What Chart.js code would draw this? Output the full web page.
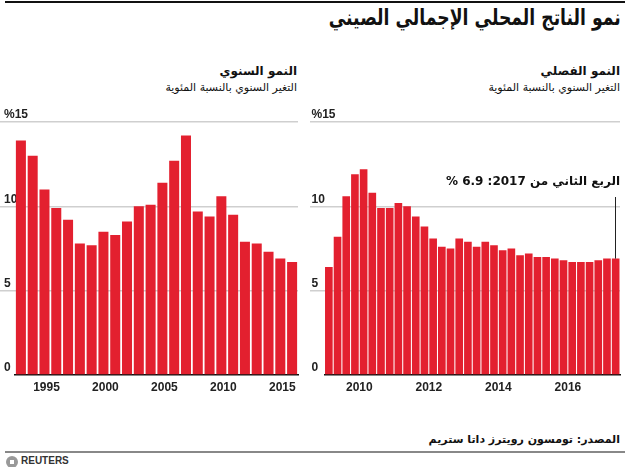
<!DOCTYPE html>
<html>
<head>
<meta charset="utf-8">
<script src="https://cdn.jsdelivr.net/npm/chart.js@4.4.0/dist/chart.umd.min.js"></script>
<style>
  body { margin: 0; background: #fff; width: 633px; height: 467px; position: relative; overflow: hidden; }
  .ar { position: absolute; direction: rtl; font-family: "DejaVu Sans", "Liberation Sans", sans-serif; color: #111; white-space: nowrap; }
  .box { position: absolute; }
</style>
</head>
<body>
<div style="position:absolute;left:5px;top:1px;width:620px;height:2px;background:#111"></div>
<div class="ar" id="title" style="right:12px;top:5px;font-family:'DejaVu Sans Condensed','DejaVu Sans';font-size:22px;font-weight:bold;transform:scaleX(0.87);transform-origin:right center">نمو الناتج المحلي الإجمالي الصيني</div>

<div class="ar" style="right:336px;top:64px;font-size:12px;font-weight:bold">النمو السنوي</div>
<div class="ar" style="right:336px;top:81px;font-size:11px">التغير السنوي بالنسبة المئوية</div>
<div class="ar" style="right:13px;top:64px;font-size:12px;font-weight:bold">النمو الفصلي</div>
<div class="ar" style="right:13px;top:81px;font-size:11px">التغير السنوي بالنسبة المئوية</div>

<div class="box" style="left:0;top:100px;width:310px;height:300px"><canvas id="annual"></canvas></div>
<div class="box" style="left:310px;top:100px;width:323px;height:300px"><canvas id="quarterly"></canvas></div>

<div class="ar" style="right:13px;top:433px;font-size:11px;font-weight:bold">المصدر: تومسون رويترز داتا ستريم</div>
<div style="position:absolute;left:5px;top:451px;width:620px;height:2px;background:#888"></div>
<div style="position:absolute;left:6px;top:456px;width:12px;height:12px;border-radius:50%;background:radial-gradient(circle,#fff 0 25%,#999 30% 100%)"></div>
<div style="position:absolute;left:21px;top:455px;font:bold 10px 'Liberation Sans',sans-serif;color:#333">REUTERS</div>

<script>
const years = [1993, 1994, 1995, 1996, 1997, 1998, 1999, 2000, 2001, 2002, 2003, 2004,
               2005, 2006, 2007, 2008, 2009, 2010, 2011, 2012, 2013, 2014, 2015, 2016];
const annualGrowth = [13.9, 13.0, 11.0, 9.9, 9.2, 7.8, 7.7, 8.5, 8.3, 9.1, 10.0, 10.1,
                      11.4, 12.7, 14.2, 9.7, 9.4, 10.6, 9.5, 7.9, 7.8, 7.3, 6.9, 6.7];

const quarters = [];
for (let y = 2009; y <= 2017; y++) {
    for (let q = 1; q <= 4; q++) {
        if (y === 2017 && q > 2) break;
        quarters.push(y + ' Q' + q);
    }
}
const quarterlyGrowth = [6.4, 8.2, 10.6, 11.9, 12.2, 10.8, 9.9, 9.9, 10.2, 10.0, 9.4, 8.8,
                         8.1, 7.6, 7.5, 8.1, 7.9, 7.6, 7.9, 7.7, 7.4, 7.5, 7.1, 7.2,
                         7.0, 7.0, 6.9, 6.8, 6.7, 6.7, 6.7, 6.8, 6.9, 6.9];

const yTicks = [0, 5, 10, 15];
const annotationText = 'الربع الثاني من 2017: 6.9 %';

const RED = '#e3202f';
const tickFont = { family: 'Liberation Sans', size: 12, weight: 'bold' };

// labels sit left-aligned just above each gridline, gridlines run to the canvas edge
function yScale(axisWidth, labelPad) {
    return {
        min: 0,
        max: 15,
        afterBuildTicks: function(axis) {
            axis.ticks = yTicks.map(v => ({ value: v }));
        },
        afterFit: function(axis) {
            axis.width = axisWidth;
        },
        border: { display: false },
        grid: {
            color: ctx => ctx.tick && ctx.tick.value === 0 ? 'rgba(0,0,0,0)' : '#cfcfcf',
            lineWidth: 1.5,
            tickLength: axisWidth,
            drawTicks: true
        },
        ticks: {
            mirror: true,
            padding: labelPad,
            labelOffset: -7,
            color: '#222',
            font: tickFont,
            callback: v => v === 15 ? '%15' : String(v)
        }
    };
}

function xScale(labelOffset, showLabel) {
    return {
        grid: { display: false, drawTicks: false },
        border: { display: true, color: '#111', width: 1.5 },
        ticks: {
            autoSkip: false,
            maxRotation: 0,
            padding: 5,
            labelOffset: labelOffset,
            color: '#222',
            font: tickFont,
            callback: function(val, i) {
                return showLabel(this.getLabelForValue(val));
            }
        }
    };
}

// annual chart
new Chart(document.getElementById('annual'), {
    type: 'bar',
    data: {
        labels: years,
        datasets: [{
            data: annualGrowth,
            backgroundColor: RED,
            barPercentage: 0.85,
            categoryPercentage: 1
        }]
    },
    options: {
        responsive: true,
        maintainAspectRatio: false,
        animation: false,
        layout: { padding: { top: 22, right: 12, bottom: 0.6, left: 0 } },
        plugins: { legend: { display: false }, tooltip: { enabled: false } },
        scales: {
            x: xScale(2, lbl => Number(lbl) % 5 === 0 ? String(lbl) : ''),
            y: yScale(15, -11)
        }
    }
});

// quarterly chart, with the callout on the latest quarter
const calloutPlugin = {
    id: 'callout',
    afterDatasetsDraw(chart) {
        const ctx = chart.ctx;
        const meta = chart.getDatasetMeta(0);
        const last = meta.data[meta.data.length - 1];
        ctx.save();
        ctx.strokeStyle = '#222';
        ctx.lineWidth = 1;
        ctx.beginPath();
        ctx.moveTo(Math.round(last.x) - 0.5, 97);
        ctx.lineTo(Math.round(last.x) - 0.5, last.y);
        ctx.stroke();
        ctx.font = 'bold 12px "DejaVu Sans"';
        ctx.fillStyle = '#111';
        ctx.direction = 'rtl';
        ctx.textAlign = 'right';
        ctx.textBaseline = 'middle';
        ctx.fillText(annotationText, chart.chartArea.right, 82);
        ctx.restore();
    }
};

new Chart(document.getElementById('quarterly'), {
    type: 'bar',
    data: {
        labels: quarters,
        datasets: [{
            data: quarterlyGrowth,
            backgroundColor: RED,
            barPercentage: 0.88,
            categoryPercentage: 1
        }]
    },
    options: {
        responsive: true,
        maintainAspectRatio: false,
        animation: false,
        layout: { padding: { top: 22, right: 13, bottom: 0.6, left: 0 } },
        plugins: { legend: { display: false }, tooltip: { enabled: false } },
        scales: {
            x: xScale(-4.3, lbl => {
                const [y, q] = lbl.split(' ');
                return q === 'Q1' && Number(y) % 2 === 0 ? y : '';
            }),
            y: yScale(14.5, -13)
        }
    },
    plugins: [calloutPlugin]
});
</script>
</body>
</html>
